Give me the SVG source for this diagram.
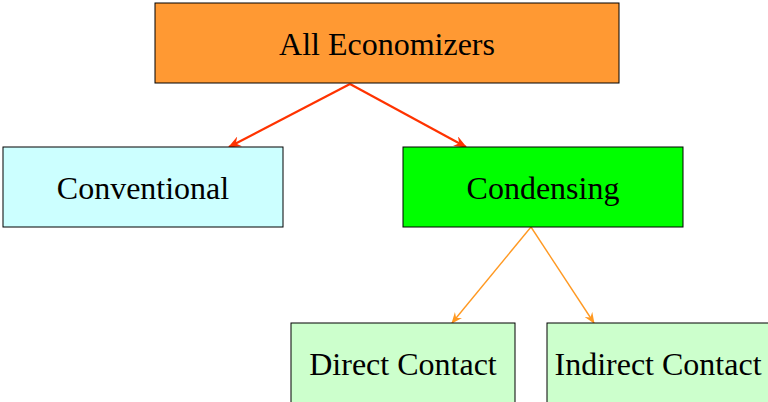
<svg xmlns="http://www.w3.org/2000/svg" width="768" height="402" viewBox="0 0 768 402">
<style>
.box{stroke:#000;stroke-width:1}
.t{font-family:"Liberation Serif",serif;font-size:32px;text-anchor:middle;fill:#000}
.red{stroke:#ff3300;stroke-width:2.2;fill:none}
.org{stroke:#ff9922;stroke-width:1.4;fill:none}
</style>
<defs>
<marker id="ar" viewBox="0 0 12 10" refX="11" refY="5" markerWidth="6" markerHeight="5" orient="auto" markerUnits="strokeWidth">
<path d="M0,0 L12,5 L0,10 L4,5 Z" fill="#ff3300"/>
</marker>
<marker id="ao" viewBox="0 0 12 10" refX="11" refY="5" markerWidth="8" markerHeight="7" orient="auto" markerUnits="strokeWidth">
<path d="M0,0 L12,5 L0,10 L4,5 Z" fill="#ff9922"/>
</marker>
</defs>
<g id="connectors">
<line class="red" x1="350" y1="84" x2="229" y2="147" marker-end="url(#ar)"/>
<line class="red" x1="350" y1="84" x2="466" y2="147" marker-end="url(#ar)"/>
<line class="org" x1="531" y1="227" x2="452" y2="323" marker-end="url(#ao)"/>
<line class="org" x1="531" y1="227" x2="594" y2="323" marker-end="url(#ao)"/>
</g>
<g id="all">
<rect class="box" x="155" y="3" width="464" height="80" fill="#ff9933"/>
<text class="t" x="387" y="55">All Economizers</text>
</g>
<g id="conventional">
<rect class="box" x="3" y="147" width="280" height="80" fill="#ccffff"/>
<text class="t" x="143" y="199">Conventional</text>
</g>
<g id="condensing">
<rect class="box" x="403" y="147" width="280" height="80" fill="#00ff00"/>
<text class="t" x="543" y="199">Condensing</text>
</g>
<g id="direct">
<rect class="box" x="291" y="323" width="224" height="90" fill="#ccffcc"/>
<text class="t" x="403" y="375">Direct Contact</text>
</g>
<g id="indirect">
<rect class="box" x="547" y="323" width="240" height="90" fill="#ccffcc"/>
<text class="t" x="658" y="375">Indirect Contact</text>
</g>
</svg>
